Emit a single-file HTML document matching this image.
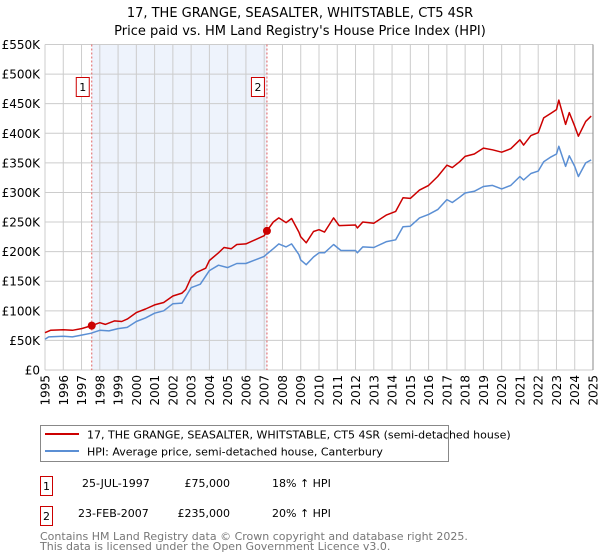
<!DOCTYPE html>
<html><head><meta charset="utf-8"><style>
body{margin:0;background:#fff;font-family:"Liberation Sans","DejaVu Sans",sans-serif}
svg{display:block}
</style></head><body>
<svg width="600" height="560" xmlns="http://www.w3.org/2000/svg" font-family="DejaVu Sans, Liberation Sans, sans-serif">
<text x="300" y="17" text-anchor="middle" font-size="13">17, THE GRANGE, SEASALTER, WHITSTABLE, CT5 4SR</text>
<text x="300" y="35" text-anchor="middle" font-size="13">Price paid vs. HM Land Registry's House Price Index (HPI)</text>
<g id="plot"></g>
<g id="legend">
<rect x="40.5" y="425.5" width="408" height="36" fill="#fff" stroke="#888"/>
<line x1="45" y1="434" x2="79" y2="434" stroke="#cc0000" stroke-width="2"/>
<text x="87" y="438.5" font-size="11">17, THE GRANGE, SEASALTER, WHITSTABLE, CT5 4SR (semi-detached house)</text>
<line x1="45" y1="451" x2="79" y2="451" stroke="#5b8fd4" stroke-width="2"/>
<text x="87" y="455.5" font-size="11">HPI: Average price, semi-detached house, Canterbury</text>
</g>
<g font-size="11">
<rect x="40.5" y="476.5" width="12" height="19" fill="#fff" stroke="#cc0000"/>
<text x="46.5" y="490" text-anchor="middle">1</text>
<text x="82" y="487">25-JUL-1997</text>
<text x="230" y="487" text-anchor="end">£75,000</text>
<text x="272" y="487">18% ↑ HPI</text>
<rect x="40.5" y="506.5" width="12" height="19" fill="#fff" stroke="#cc0000"/>
<text x="46.5" y="520" text-anchor="middle">2</text>
<text x="78" y="517">23-FEB-2007</text>
<text x="230" y="517" text-anchor="end">£235,000</text>
<text x="272" y="517">20% ↑ HPI</text>
</g>
<text x="40" y="540" font-size="11" fill="#777">Contains HM Land Registry data © Crown copyright and database right 2025.</text>
<text x="40" y="550" font-size="11" fill="#777">This data is licensed under the Open Government Licence v3.0.</text>
</svg>
<script>
const hpiYears=[1995,1995.2,1996,1996.5,1997,1997.5,1998,1998.5,1999,1999.5,2000,2000.5,2001,2001.5,2002,2002.5,2003,2003.5,2004,2004.5,2005,2005.5,2006,2006.5,2007,2007.15,2007.5,2007.8,2008.2,2008.5,2008.9,2009,2009.3,2009.7,2010,2010.3,2010.8,2011.2,2012,2012.1,2012.4,2013,2013.7,2014.2,2014.6,2015,2015.5,2016,2016.5,2017,2017.3,2017.7,2018,2018.5,2019,2019.5,2020,2020.5,2021,2021.2,2021.6,2022,2022.3,2022.7,2023,2023.13,2023.5,2023.7,2024,2024.2,2024.6,2024.9];
const hpiValues=[52,56,57,56,59,62,67,66,70,72,82,88,96,100,112,113,139,145,168,177,173,180,180,186,192,196,205,213,208,213,195,186,178,191,198,198,212,202,202,198,208,207,217,220,242,243,257,263,271,288,283,292,299,302,310,312,306,312,327,321,332,336,352,360,365,378,344,362,344,327,350,355];
const priceYears=[1995,1995.3,1996,1996.5,1997,1997.56,1998,1998.3,1998.8,1999.2,1999.5,2000,2000.5,2001,2001.5,2002,2002.5,2002.7,2003,2003.3,2003.8,2004,2004.5,2004.8,2005.2,2005.5,2006,2006.5,2007,2007.15,2007.5,2007.8,2008.2,2008.5,2008.9,2009,2009.3,2009.7,2010,2010.3,2010.8,2011.1,2012,2012.1,2012.4,2013,2013.7,2014.2,2014.6,2015,2015.5,2016,2016.5,2017,2017.3,2017.7,2018,2018.5,2019,2019.5,2020,2020.5,2021,2021.2,2021.6,2022,2022.3,2022.7,2023,2023.13,2023.5,2023.7,2024,2024.2,2024.6,2024.9];
const priceValues=[63,67,68,67,70,75,80,77,83,82,86,97,103,110,114,125,130,136,156,165,172,185,198,207,205,212,213,220,227,235,250,257,249,256,233,225,215,234,237,233,257,244,245,240,250,248,262,268,291,290,304,312,327,346,342,352,361,365,375,372,368,374,389,380,396,401,426,434,440,456,415,435,412,395,420,429];
const saleYears=[1997.56,2007.15];
const saleValues=[75,235];
const saleLabels=["1","2"];
const yTicks=[0,50,100,150,200,250,300,350,400,450,500,550];
const yTickLabels=["£0","£50K","£100K","£150K","£200K","£250K","£300K","£350K","£400K","£450K","£500K","£550K"];
const xTicks=[1995,1996,1997,1998,1999,2000,2001,2002,2003,2004,2005,2006,2007,2008,2009,2010,2011,2012,2013,2014,2015,2016,2017,2018,2019,2020,2021,2022,2023,2024,2025];

const L=45,R=593,T=44.5,B=370;
const x=y=>L+(y-1995)/30*(R-L);
const yS=v=>B-v/550*(B-T);
const NS="http://www.w3.org/2000/svg";
const plot=document.getElementById('plot');
function mk(t,a,p){const e=document.createElementNS(NS,t);for(const k in a)e.setAttribute(k,a[k]);(p||plot).appendChild(e);return e;}
const shade=mk('rect',{x:x(saleYears[0]),y:T,width:x(saleYears[1])-x(saleYears[0]),height:B-T,fill:'#eef3fc'});


yTicks.forEach((v,i)=>{
 const g=mk('line',{x1:L,x2:R,y1:yS(v),y2:yS(v),stroke:'#cccccc','stroke-width':1});
 
 
 const t=mk('text',{x:L-5,y:yS(v)+4.5,'text-anchor':'end','font-size':12});
 t.textContent=yTickLabels[i];
 
 
});
xTicks.forEach(yr=>{
 const g=mk('line',{x1:x(yr),x2:x(yr),y1:T,y2:B,stroke:'#cccccc','stroke-width':1});
 
 
 const t=mk('text',{x:0,y:0,'text-anchor':'end','font-size':12,transform:`translate(${x(yr)+4.5},375) rotate(-90)`});
 t.textContent=yr;
 
 
});
saleYears.forEach((yr,i)=>{
 const l=mk('line',{x1:x(yr),x2:x(yr),y1:T,y2:B,stroke:'#e06060','stroke-width':1,'stroke-dasharray':'2,2'});
 
 
 const bx=mk('rect',{x:x(yr)-15.5,y:77.5,width:13,height:19,fill:'#fff',stroke:'#cc0000'});
 
 
 const t=mk('text',{x:x(yr)-9,y:91,'text-anchor':'middle','font-size':11});
 t.textContent=saleLabels[i];
 
 
});
function path(xs,vs,col,name){
 const d=xs.map((yr,i)=>(i?'L':'M')+x(yr).toFixed(1)+','+yS(vs[i]).toFixed(1)).join('');
 const p=mk('path',{d:d,fill:'none',stroke:col,'stroke-width':1.5,'stroke-linejoin':'round'});
 
 
}
path(hpiYears,hpiValues,'#5b8fd4','hpi-line');
path(priceYears,priceValues,'#cc0000','price-line');
saleYears.forEach((yr,i)=>{
 const c=mk('circle',{cx:x(yr),cy:yS(saleValues[i]),r:4,fill:'#cc0000'});
 
 
});
const ax=mk('line',{x1:R,x2:R,y1:T,y2:B,stroke:'#888','stroke-width':1});


</script>
</body></html>
